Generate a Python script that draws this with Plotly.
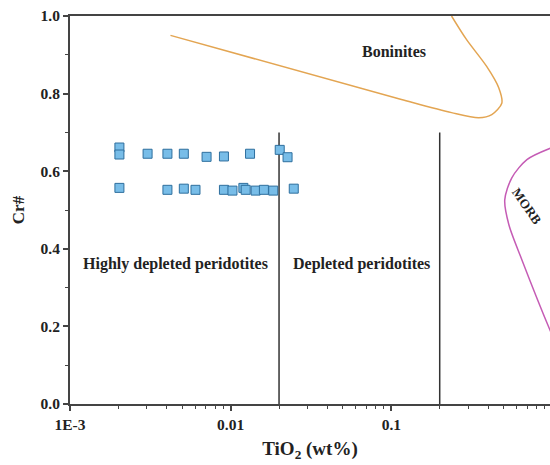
import numpy as np
import plotly.graph_objects as go

# Sample data (TiO2 wt%, Cr#)
tio2_upper = [0.00203, 0.00203, 0.00304, 0.00404, 0.00511, 0.00708, 0.00908, 0.0132, 0.0202, 0.0226]
cr_upper = [0.661, 0.643, 0.645, 0.645, 0.645, 0.637, 0.638, 0.645, 0.655, 0.636]
tio2_lower = [0.00203, 0.00404, 0.00511, 0.00604, 0.00908, 0.01026, 0.0120, 0.0124, 0.0143, 0.0161, 0.0184, 0.0247]
cr_lower = [0.557, 0.552, 0.555, 0.552, 0.552, 0.550, 0.557, 0.552, 0.550, 0.552, 0.550, 0.555]

# Field boundaries
boundary_x = [0.02, 0.2]
boundary_top = 0.7

boninite_x = [0.00422, 0.1155, 0.237, 0.350, 0.422, 0.487, 0.466, 0.392, 0.294, 0.237]
boninite_y = [0.950, 0.785, 0.751, 0.738, 0.746, 0.775, 0.815, 0.870, 0.939, 1.0]

morb_x = [1.0, 0.698, 0.562, 0.508, 0.539, 0.649, 1.0, 1.33]
morb_y = [0.661, 0.630, 0.583, 0.526, 0.462, 0.372, 0.178, 0.062]

x_tickvals = [0.001, 0.01, 0.1, 1]
x_ticktext = ["1E-3", "0.01", "0.1", "1"]
y_tickvals = [0.0, 0.2, 0.4, 0.6, 0.8, 1.0]
y_ticktext = ["0.0", "0.2", "0.4", "0.6", "0.8", "1.0"]

FONT = "Liberation Serif"
AX = "#444444"

fig = go.Figure()

for bx in boundary_x:
    fig.add_trace(go.Scatter(x=[bx, bx], y=[0, boundary_top], mode="lines",
                             line=dict(color="#333333", width=1.5), showlegend=False, hoverinfo="skip"))

fig.add_trace(go.Scatter(x=boninite_x, y=boninite_y, mode="lines",
                         line=dict(color="#e3a552", width=1.5, shape="spline", smoothing=0.8),
                         showlegend=False, hoverinfo="skip"))
fig.add_trace(go.Scatter(x=morb_x, y=morb_y, mode="lines",
                         line=dict(color="#c55cb5", width=1.5, shape="spline", smoothing=0.8),
                         showlegend=False, hoverinfo="skip"))

marker = dict(symbol="square", size=9, color="#78bde8", line=dict(color="#2e6f9e", width=1))
fig.add_trace(go.Scatter(x=tio2_upper, y=cr_upper, mode="markers", marker=marker, showlegend=False))
fig.add_trace(go.Scatter(x=tio2_lower, y=cr_lower, mode="markers", marker=marker, showlegend=False))

lab = dict(family=FONT, size=16, color="#222222")
fig.add_annotation(x=np.log10(0.1044), y=0.908, text="<b>Boninites</b>", showarrow=False, font=lab)
fig.add_annotation(x=np.log10(0.00453), y=0.361, text="<b>Highly depleted peridotites</b>", showarrow=False, font=lab)
fig.add_annotation(x=np.log10(0.0655), y=0.361, text="<b>Depleted peridotites</b>", showarrow=False, font=lab)
fig.add_annotation(x=np.log10(0.698), y=0.508, text="<b>MORB</b>", showarrow=False,
                   font=dict(family=FONT, size=13, color="#222222"), textangle=55)

minor_x = []
for d in [0.001, 0.01, 0.1, 1]:
    for k in range(2, 10):
        minor_x.append(d * k)

fig.update_layout(
    width=550, height=465,
    margin=dict(l=70, r=0, t=16, b=61),
    paper_bgcolor="white", plot_bgcolor="white",
    font=dict(family=FONT, color="#222222"),
    xaxis=dict(type="log", range=[-3, -0.0125], showline=True, linecolor=AX, linewidth=2, mirror=True,
               automargin=False,
               showgrid=False, zeroline=False, ticks="outside", ticklen=5, tickwidth=1.5, tickcolor=AX,
               tickmode="array", tickvals=x_tickvals, ticktext=x_ticktext,
               tickfont=dict(family=FONT, size=15.5, color="#222222", weight="bold"),
               minor=dict(tickmode="array", tickvals=minor_x, ticks="outside", ticklen=3, tickwidth=1, tickcolor=AX),
               title=dict(text="<b>TiO<sub>2</sub> (wt%)</b>", font=dict(family=FONT, size=19, color="#222222"), standoff=10)),
    yaxis=dict(range=[0, 1.0], showline=True, linecolor=AX, linewidth=2, mirror=False,
               automargin=False,
               showgrid=False, zeroline=False, ticks="outside", ticklen=5, tickwidth=1.5, tickcolor=AX,
               tickmode="array", tickvals=y_tickvals, ticktext=y_ticktext,
               tickfont=dict(family=FONT, size=15.5, color="#222222", weight="bold"),
               minor=dict(tickmode="array", tickvals=[0.1, 0.3, 0.5, 0.7, 0.9], ticks="outside", ticklen=3, tickwidth=1, tickcolor=AX),
               title=dict(text="<b>Cr#</b>", font=dict(family=FONT, size=17, color="#222222"), standoff=12)),
)

fig.write_html("out.html", config={"displayModeBar": False},
               post_script="document.body.style.margin='0px';")
